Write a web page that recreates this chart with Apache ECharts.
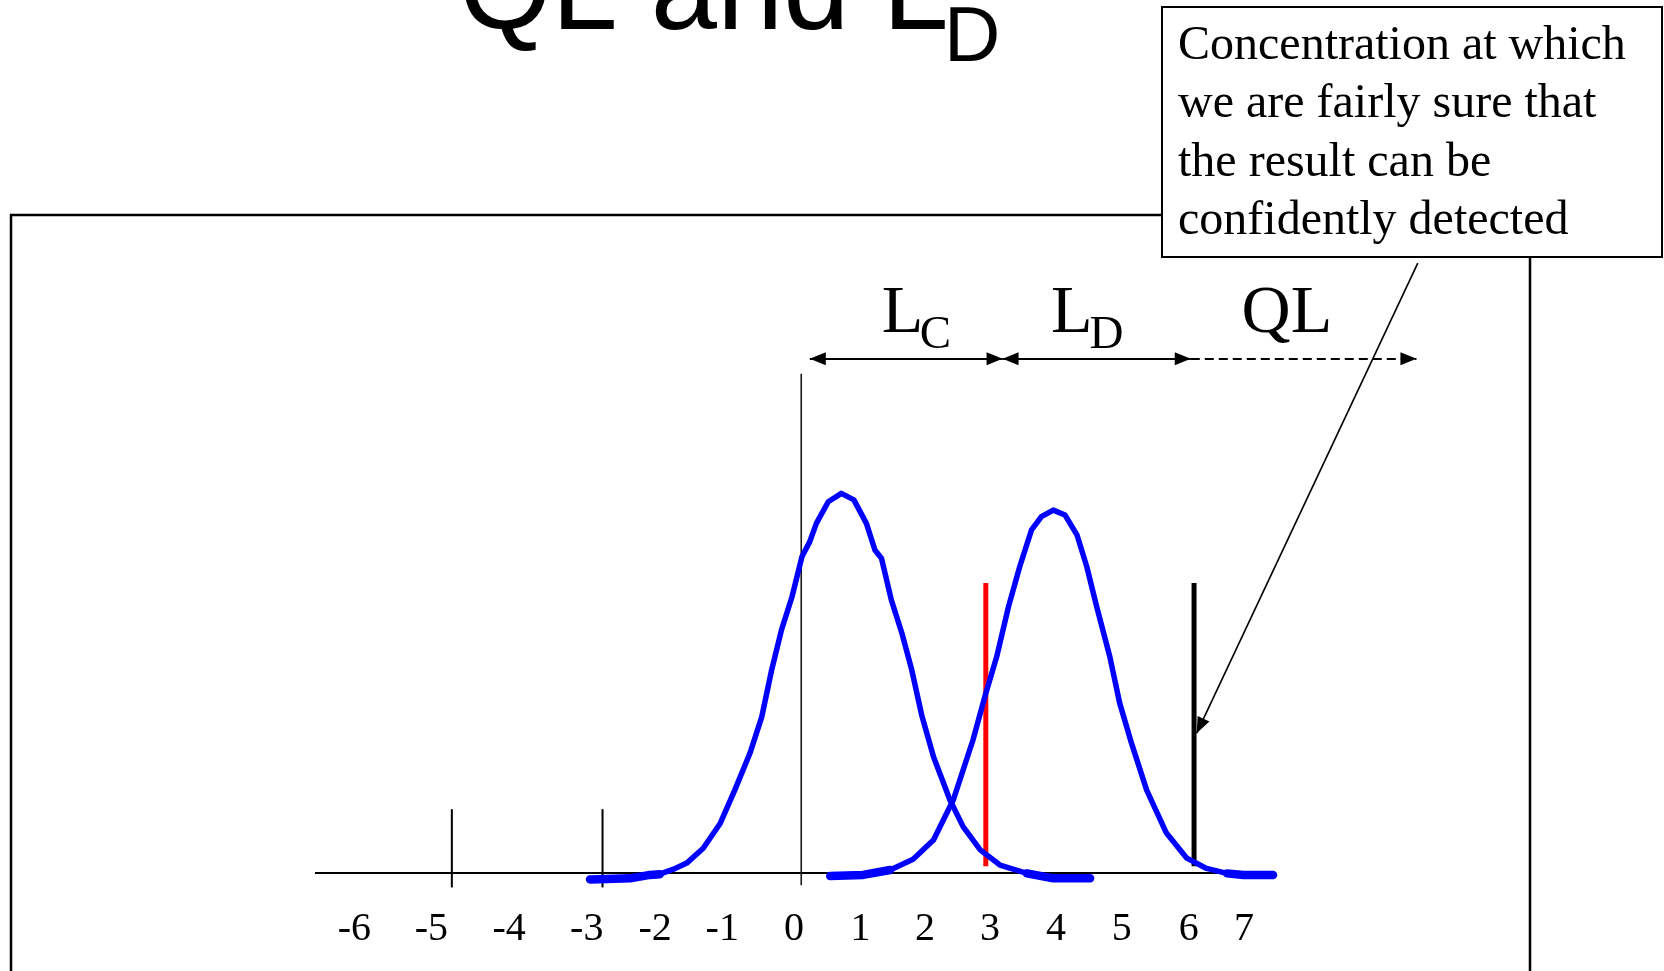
<!DOCTYPE html>
<html>
<head>
<meta charset="utf-8">
<script src="https://cdn.jsdelivr.net/npm/echarts@6/dist/echarts.min.js"></script>
<style>
  html, body { margin: 0; padding: 0; background: #fff; }
  #chart { width: 1664px; height: 971px; }
</style>
</head>
<body>
<div id="chart"></div>
<script>
// ---- data (x in concentration units, y in % of blank peak) ----
const tickLabels = ['-6', '-5', '-4', '-3', '-2', '-1', '0', '1', '2', '3', '4', '5', '6', '7'];
const tickLabelPos = [-6.68, -5.51, -4.33, -3.15, -2.11, -1.09, 0, 1.01, 1.99, 2.98, 3.98, 4.98, 6.00, 6.84];

const blankX = [-3.10, -2.49, -2.19, -2.04, -1.83, -1.63, -1.38, -1.12, -0.90, -0.67, -0.49, -0.34, -0.19, -0.03, 0.12,
                0.24, 0.34, 0.52, 0.72, 0.91, 1.10, 1.23, 1.33, 1.48, 1.64, 1.79, 1.94, 2.12, 2.37, 2.57,
                2.83, 3.13, 3.54, 3.94, 4.50];
const blankY = [-1.7, -1.4, -0.5, -0.3, 1.0, 2.6, 6.5, 13.1, 21.8, 31.5, 41.1, 53.4, 64.0, 72.7, 83.2,
                87.2, 92.0, 97.7, 99.9, 98.2, 92.0, 85.0, 82.8, 71.8, 63.1, 53.4, 41.6, 30.6, 19.2, 12.2,
                6.1, 2.1, -0.1, -1.4, -1.4];

const sampleX = [0.55, 1.05, 1.46, 1.81, 2.12, 2.42, 2.72, 2.90, 3.08, 3.26, 3.43, 3.61, 3.76, 3.94,
                 4.12, 4.30, 4.45, 4.60, 4.80, 4.95, 5.13, 5.36, 5.66, 5.97, 6.27, 6.58, 6.83, 7.28];
const sampleY = [-0.8, -0.5, 0.8, 3.6, 8.7, 19.2, 35.0, 46.4, 56.9, 70.1, 80.6, 90.3, 93.8, 95.5,
                 94.2, 89.0, 80.6, 70.1, 56.9, 44.7, 34.1, 21.8, 10.5, 3.9, 1.2, -0.1, -0.5, -0.5];

const baselineX = [-7.28, 7.28];
const tickMarkX = [-5.20, -2.91];
const tickMarkY = [-3.8, 16.8];
const zeroLineX = 0.11;
const zeroLineY = [-3.2, 131.4];
const lcLineX = 2.915;      // red decision line
const qlLineX = 6.08;       // black quantitation line
const limitLineY = [1.8, 76.3];

const spanStops = [0.24, 3.17, 6.03, 9.46];
const spanY = 135.3;
const spanMainText = ['L', 'L', 'QL'];
const spanMainX = [1.65, 4.22, 7.49];
const spanSubText = ['C', 'D'];
const spanSubX = [2.15, 4.75];

const pointerFrom = [9.48, 160.5];
const pointerTo = [6.12, 36.8];

const titleMain = 'QL and L';
const titleSub = 'D';
const noteLines = ['Concentration at which', 'we are fairly sure that', 'the result can be', 'confidently detected'];

// ---- helpers ----
const pair = (xs, ys) => xs.map((x, i) => [x, ys[i]]);
const blank = pair(blankX, blankY);
const sample = pair(sampleX, sampleY);
const BLUE = '#0000ff';
const SERIF = '"Liberation Serif", "Times New Roman", serif';
const SANS = '"Liberation Sans", Arial, sans-serif';

function vline(name, x, ys, color, width) {
  return {
    name, type: 'line', data: [[x, ys[0]], [x, ys[1]]], symbol: 'none', silent: true,
    lineStyle: { color, width, cap: 'butt' }, z: 3
  };
}
function curve(name, data, width, z) {
  return {
    name, type: 'line', data, symbol: 'none', silent: true, smooth: false,
    lineStyle: { color: BLUE, width, cap: 'round', join: 'round' }, z
  };
}
function textSeries(name, xs, y, texts, fontSize) {
  return {
    name, type: 'scatter', symbolSize: 0, silent: true, z: 6,
    itemStyle: { opacity: 1 },
    data: xs.map(x => [x, y]),
    label: {
      show: true, position: 'inside', align: 'center', verticalAlign: 'middle',
      formatter: p => texts[p.dataIndex],
      fontFamily: SERIF, fontSize, color: '#000', opacity: 1, textBorderWidth: 0
    }
  };
}
const arrowSize = [13, 16];
function arrowEnd(coord, sym) {
  return { coord, symbol: sym, symbolSize: arrowSize, symbolOffset: [0, arrowSize[1] / 2] };
}

const chart = echarts.init(document.getElementById('chart'));
chart.setOption({
  animation: false,
  backgroundColor: '#ffffff',
  title: [
    { text: titleMain, left: 459, top: -63.7, padding: 0,
      textStyle: { fontFamily: SANS, fontSize: 119, lineHeight: 119, fontWeight: 'normal', color: '#000' } },
    { text: titleSub, left: 944, top: 0, padding: 0,
      textStyle: { fontFamily: SANS, fontSize: 78, lineHeight: 78, fontWeight: 'normal', color: '#000' } }
  ],
  grid: { left: 267.6, right: 80.4, top: 113, bottom: 22 },
  xAxis: { type: 'value', min: -8, max: 12, show: false },
  yAxis: { type: 'value', min: -20, max: 200, show: false },
  graphic: [
    { type: 'rect', z: -10, silent: true, shape: { x: 11, y: 215, width: 1519, height: 800 },
      style: { fill: 'none', stroke: '#000', lineWidth: 2.5 } },
    { type: 'rect', z: 50, silent: true, shape: { x: 1162, y: 7, width: 500, height: 250 },
      style: { fill: '#fff', stroke: '#000', lineWidth: 2 } },
    { type: 'text', z: 51, silent: true, x: 1178, y: 17,
      style: { text: noteLines.join('\n'), fontFamily: SERIF, fontSize: 48, lineHeight: 58.5,
               fill: '#000', verticalAlign: 'top', align: 'left' } }
  ],
  series: [
    {
      name: 'baseline', type: 'line', data: pair(baselineX, [0, 0]), symbol: 'none', silent: true,
      lineStyle: { color: '#000', width: 2 }, z: 2
    },
    vline('tick1', tickMarkX[0], tickMarkY, '#000', 2),
    vline('tick2', tickMarkX[1], tickMarkY, '#000', 2),
    vline('zero', zeroLineX, zeroLineY, '#1a1a1a', 1.6),
    curve('blank', blank, 5.5, 4),
    curve('blankTailL', blank.slice(0, 4), 8.5, 4),
    curve('blankTailR', blank.slice(32), 8.5, 4),
    curve('sample', sample, 5.5, 4),
    curve('sampleTailL', sample.slice(0, 3), 8.5, 4),
    curve('sampleTailR', sample.slice(25), 8.5, 4),
    vline('Lc', lcLineX, limitLineY, '#ff0000', 5),
    vline('QLline', qlLineX, limitLineY, '#000', 5),
    {
      name: 'spans', type: 'line', data: [], silent: true, z: 5,
      markLine: {
        silent: true, animation: false, label: { show: false },
        lineStyle: { color: '#000', width: 2, type: 'solid' },
        emphasis: { disabled: true },
        data: [
          [arrowEnd([spanStops[0], spanY], 'triangle'), arrowEnd([spanStops[1], spanY], 'triangle')],
          [arrowEnd([spanStops[1], spanY], 'triangle'), arrowEnd([spanStops[2], spanY], 'triangle')]
        ]
      }
    },
    {
      name: 'qlSpan', type: 'line', data: [], silent: true, z: 5,
      markLine: {
        silent: true, animation: false, label: { show: false },
        lineStyle: { color: '#000', width: 2, type: [9, 5] },
        emphasis: { disabled: true },
        data: [
          [{ coord: [spanStops[2], spanY], symbol: 'none' }, arrowEnd([spanStops[3], spanY], 'triangle')]
        ]
      }
    },
    {
      name: 'pointer', type: 'line', data: [], silent: true, z: 6,
      markLine: {
        silent: true, animation: false, label: { show: false },
        lineStyle: { color: '#000', width: 1.6, type: 'solid' },
        emphasis: { disabled: true },
        data: [
          [{ coord: pointerFrom, symbol: 'none' }, arrowEnd(pointerTo, 'triangle')]
        ]
      }
    },
    textSeries('spanMain', spanMainX, 147, spanMainText, 68),
    textSeries('spanSub', spanSubX, 141.3, spanSubText, 47),
    textSeries('tickLabels', tickLabelPos, -14.9, tickLabels, 40)
  ]
});
</script>
</body>
</html>
